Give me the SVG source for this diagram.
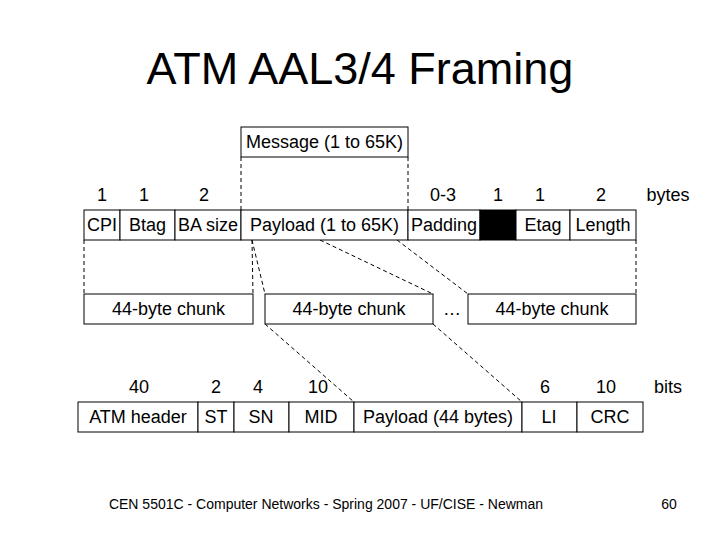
<svg xmlns="http://www.w3.org/2000/svg" width="720" height="540" viewBox="0 0 720 540">
<style>
text{font-family:"Liberation Sans",Arial,sans-serif;fill:#000}
.t{font-size:18px;text-anchor:middle}
.f{fill:#fff;stroke:#000;stroke-width:1}
.d{stroke:#000;stroke-width:1;stroke-dasharray:4,3;fill:none}
</style>
<rect width="720" height="540" fill="#fff"/>
<text x="360" y="84" font-size="45" text-anchor="middle">ATM AAL3/4 Framing</text>

<g id="connectors">
<line class="d" x1="241" y1="157" x2="241" y2="210"/>
<line class="d" x1="408" y1="157" x2="408" y2="210"/>
<line class="d" x1="84" y1="240" x2="84" y2="294"/>
<line class="d" x1="252" y1="240" x2="253" y2="294"/>
<line class="d" x1="252" y1="240" x2="265" y2="294"/>
<line class="d" x1="320" y1="240" x2="433" y2="294"/>
<line class="d" x1="397" y1="240" x2="468" y2="294"/>
<line class="d" x1="636" y1="240" x2="636" y2="294"/>
<line class="d" x1="265" y1="324" x2="354" y2="402"/>
<line class="d" x1="433" y1="324" x2="522" y2="402"/>
</g>

<g id="message">
<rect class="f" x="241" y="127" width="167" height="30"/>
<text class="t" x="324.5" y="148">Message (1 to 65K)</text>
</g>

<g id="sizes-bytes" class="t">
<text x="102" y="201">1</text>
<text x="144" y="201">1</text>
<text x="204" y="201">2</text>
<text x="443" y="201">0-3</text>
<text x="498" y="201">1</text>
<text x="540" y="201">1</text>
<text x="601" y="201">2</text>
<text x="668" y="201">bytes</text>
</g>

<g id="frame">
<rect class="f" x="84" y="210" width="36" height="30"/>
<text class="t" x="102" y="231">CPI</text>
<rect class="f" x="120" y="210" width="55" height="30"/>
<text class="t" x="147.5" y="231">Btag</text>
<rect class="f" x="175" y="210" width="66" height="30"/>
<text class="t" x="208" y="231">BA size</text>
<rect class="f" x="241" y="210" width="167" height="30"/>
<text class="t" x="324.5" y="231">Payload (1 to 65K)</text>
<rect class="f" x="408" y="210" width="72" height="30"/>
<text class="t" x="444" y="231">Padding</text>
<rect x="480" y="210" width="36" height="30" fill="#000" stroke="#000"/>
<rect class="f" x="516" y="210" width="54" height="30"/>
<text class="t" x="543" y="231">Etag</text>
<rect class="f" x="570" y="210" width="66" height="30"/>
<text class="t" x="603" y="231">Length</text>
</g>

<g id="chunk1">
<rect class="f" x="84" y="294" width="169" height="30"/>
<text class="t" x="168.5" y="315">44-byte chunk</text>
</g>
<g id="chunk2">
<rect class="f" x="265" y="294" width="168" height="30"/>
<text class="t" x="349" y="315">44-byte chunk</text>
</g>
<g id="ellipsis">
<text class="t" x="452" y="315">…</text>
</g>
<g id="chunk3">
<rect class="f" x="468" y="294" width="168" height="30"/>
<text class="t" x="552" y="315">44-byte chunk</text>
</g>

<g id="sizes-bits" class="t">
<text x="139" y="393">40</text>
<text x="216" y="393">2</text>
<text x="258" y="393">4</text>
<text x="318" y="393">10</text>
<text x="545" y="393">6</text>
<text x="606" y="393">10</text>
<text x="668" y="393">bits</text>
</g>

<g id="cell">
<rect class="f" x="78" y="402" width="120" height="30"/>
<text class="t" x="138" y="423">ATM header</text>
<rect class="f" x="198" y="402" width="36" height="30"/>
<text class="t" x="216" y="423">ST</text>
<rect class="f" x="234" y="402" width="55" height="30"/>
<text class="t" x="261" y="423">SN</text>
<rect class="f" x="289" y="402" width="65" height="30"/>
<text class="t" x="321" y="423">MID</text>
<rect class="f" x="354" y="402" width="168" height="30"/>
<text class="t" x="438" y="423">Payload (44 bytes)</text>
<rect class="f" x="522" y="402" width="55" height="30"/>
<text class="t" x="549" y="423">LI</text>
<rect class="f" x="577" y="402" width="66" height="30"/>
<text class="t" x="610" y="423">CRC</text>
</g>

<text x="326" y="509" font-size="14" text-anchor="middle">CEN 5501C - Computer Networks - Spring 2007 - UF/CISE - Newman</text>
<text x="669" y="509" font-size="14" text-anchor="middle">60</text>
</svg>
